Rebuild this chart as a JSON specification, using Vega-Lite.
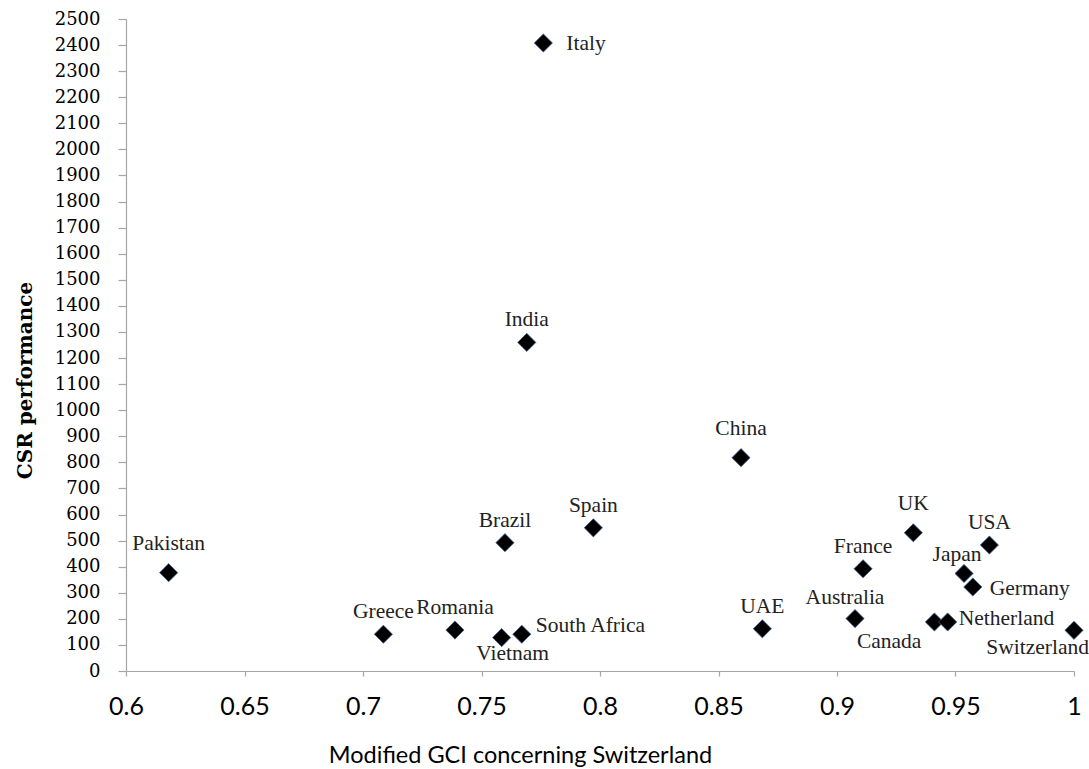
{
  "$schema": "https://vega.github.io/schema/vega-lite/v6.json",
  "width": 948,
  "height": 652,
  "autosize": {"type": "none"},
  "padding": {"left": 126, "top": 19, "right": 15, "bottom": 98},
  "background": "white",
  "config": {"view": {"stroke": null}, "axis": {"grid": false, "domainColor": "#a6a6a6", "tickColor": "#a6a6a6", "domainWidth": 1.2, "tickWidth": 1.2}},
  "data": {"values": [
    {"country": "Pakistan", "gci": 0.618, "csr": 377},
    {"country": "Greece", "gci": 0.7086, "csr": 141},
    {"country": "Romania", "gci": 0.7388, "csr": 157},
    {"country": "Vietnam", "gci": 0.7585, "csr": 128},
    {"country": "South Africa", "gci": 0.767, "csr": 141},
    {"country": "Brazil", "gci": 0.7599, "csr": 492},
    {"country": "India", "gci": 0.7691, "csr": 1260},
    {"country": "Italy", "gci": 0.7761, "csr": 2408},
    {"country": "Spain", "gci": 0.7972, "csr": 549},
    {"country": "China", "gci": 0.8595, "csr": 818},
    {"country": "UAE", "gci": 0.8685, "csr": 162},
    {"country": "Australia", "gci": 0.9076, "csr": 201},
    {"country": "France", "gci": 0.911, "csr": 392},
    {"country": "UK", "gci": 0.9322, "csr": 530},
    {"country": "Canada", "gci": 0.9411, "csr": 188},
    {"country": "Netherland", "gci": 0.9467, "csr": 188},
    {"country": "Japan", "gci": 0.9536, "csr": 374},
    {"country": "Germany", "gci": 0.9573, "csr": 322},
    {"country": "USA", "gci": 0.9643, "csr": 483},
    {"country": "Switzerland", "gci": 1.0, "csr": 156}
  ]},
  "encoding": {
    "x": {"field": "gci", "type": "quantitative", "scale": {"domain": [0.6, 1], "nice": false, "zero": false},
      "axis": {"values": [0.6, 0.65, 0.7, 0.75, 0.8, 0.85, 0.9, 0.95, 1], "format": "~g", "tickSize": 5, "labelFont": "Lato", "labelFontSize": 25, "labelColor": "#000", "labelBaseline": "alphabetic", "labelPadding": 38, "labelOverlap": false, "labelBound": false, "labelFlush": false,
        "title": "Modified GCI concerning Switzerland", "titleFont": "Lato", "titleFontSize": 23.5, "titleFontWeight": "normal", "titleColor": "#000", "titleX": 394, "titleY": 91, "titleBaseline": "alphabetic", "titleAlign": "center"}},
    "y": {"field": "csr", "type": "quantitative", "scale": {"domain": [0, 2500], "nice": false},
      "axis": {"values": [0,100,200,300,400,500,600,700,800,900,1000,1100,1200,1300,1400,1500,1600,1700,1800,1900,2000,2100,2200,2300,2400,2500], "format": "d", "tickSize": 8, "labelFont": "DejaVu Serif", "labelFontSize": 18, "labelColor": "#000", "labelPadding": 18, "labelOverlap": false, "labelBound": false, "labelFlush": false,
        "title": "CSR performance", "titleFont": "DejaVu Serif", "titleFontSize": 20, "titleFontWeight": "bold", "titleColor": "#000", "titleAngle": -90, "titleX": -101, "titleY": 361, "titleAlign": "center", "titleBaseline": "middle"}}
  },
  "layer": [
    {"mark": {"type": "point", "shape": "diamond", "size": 330, "filled": true, "color": "#000", "stroke": "#3b5f8f", "strokeWidth": 0.8, "opacity": 1}},
    {"transform": [{"filter": {"field": "country", "oneOf": ["Pakistan", "China", "UK"]}}],
     "mark": {"type": "text", "font": "Liberation Serif", "fontSize": 21.5, "color": "#222", "align": "center", "baseline": "middle", "dy": -29}, "encoding": {"text": {"field": "country"}}},
    {"transform": [{"filter": {"field": "country", "oneOf": ["India", "Brazil", "Spain", "UAE", "Greece", "Romania", "USA", "France"]}}],
     "mark": {"type": "text", "font": "Liberation Serif", "fontSize": 21.5, "color": "#222", "align": "center", "baseline": "middle", "dy": -22}, "encoding": {"text": {"field": "country"}}},
    {"transform": [{"filter": {"field": "country", "equal": "Japan"}}],
     "mark": {"type": "text", "font": "Liberation Serif", "fontSize": 21.5, "color": "#222", "align": "center", "baseline": "middle", "dx": -7, "dy": -18}, "encoding": {"text": {"field": "country"}}},
    {"transform": [{"filter": {"field": "country", "equal": "Australia"}}],
     "mark": {"type": "text", "font": "Liberation Serif", "fontSize": 21.5, "color": "#222", "align": "center", "baseline": "middle", "dx": -10, "dy": -21}, "encoding": {"text": {"field": "country"}}},
    {"transform": [{"filter": {"field": "country", "equal": "Italy"}}],
     "mark": {"type": "text", "font": "Liberation Serif", "fontSize": 21.5, "color": "#222", "align": "left", "baseline": "middle", "dx": 23, "dy": 1}, "encoding": {"text": {"field": "country"}}},
    {"transform": [{"filter": {"field": "country", "equal": "South Africa"}}],
     "mark": {"type": "text", "font": "Liberation Serif", "fontSize": 21.5, "color": "#222", "align": "left", "baseline": "middle", "dx": 14, "dy": -8}, "encoding": {"text": {"field": "country"}}},
    {"transform": [{"filter": {"field": "country", "equal": "Germany"}}],
     "mark": {"type": "text", "font": "Liberation Serif", "fontSize": 21.5, "color": "#222", "align": "left", "baseline": "middle", "dx": 17, "dy": 2}, "encoding": {"text": {"field": "country"}}},
    {"transform": [{"filter": {"field": "country", "equal": "Netherland"}}],
     "mark": {"type": "text", "font": "Liberation Serif", "fontSize": 21.5, "color": "#222", "align": "left", "baseline": "middle", "dx": 11, "dy": -3}, "encoding": {"text": {"field": "country"}}},
    {"transform": [{"filter": {"field": "country", "equal": "Vietnam"}}],
     "mark": {"type": "text", "font": "Liberation Serif", "fontSize": 21.5, "color": "#222", "align": "center", "baseline": "middle", "dx": 11, "dy": 16}, "encoding": {"text": {"field": "country"}}},
    {"transform": [{"filter": {"field": "country", "equal": "Canada"}}],
     "mark": {"type": "text", "font": "Liberation Serif", "fontSize": 21.5, "color": "#222", "align": "right", "baseline": "middle", "dx": -13, "dy": 20}, "encoding": {"text": {"field": "country"}}},
    {"transform": [{"filter": {"field": "country", "equal": "Switzerland"}}],
     "mark": {"type": "text", "font": "Liberation Serif", "fontSize": 21.5, "color": "#222", "align": "right", "baseline": "middle", "dx": 15, "dy": 18}, "encoding": {"text": {"field": "country"}}}
  ]
}
